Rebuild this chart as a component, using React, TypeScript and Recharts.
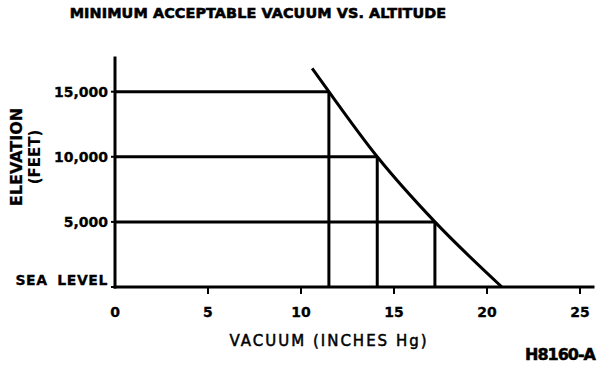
import { LineChart, Line, XAxis, YAxis } from 'recharts'

// curve: minimum vacuum (in Hg) vs elevation (ft)
const curveVacuum = [10.6, 11.5, 14.1, 17.2, 20.8]
const curveElevation = [16800, 15000, 10000, 5000, 0]

// marked levels and the vacuum read at each
const levels = [15000, 10000, 5000]
const levelVacuum = [11.5, 14.1, 17.2]

const xTicks = [0, 5, 10, 15, 20, 25]
const yTicks = [0, 5000, 10000, 15000]
const yTickLabels = ['SEA LEVEL', '5,000', '10,000', '15,000']

const X_MAX = 25.7
const Y_MAX = 17588

const FONT = '"DejaVu Sans", sans-serif'

const curveData = curveVacuum.map((x, i) => ({ x, y: curveElevation[i] }))
const hLines = levels.map((y, i) => [
  { x: 0, y },
  { x: levelVacuum[i], y },
])
const vLines = levels.map((y, i) => [
  { x: levelVacuum[i], y },
  { x: levelVacuum[i], y: 0 },
])

function XTick({ x, y, payload }: any) {
  return (
    <g>
      {payload.value !== 0 && (
        <line x1={x} x2={x} y1={y - 8} y2={y - 1} stroke="#000" strokeWidth={2} />
      )}
      <text x={x} y={y} dy={22} textAnchor="middle" fontFamily={FONT} fontWeight="bold" fontSize={14} stroke="#000" strokeWidth={0.3} fill="#000">
        {payload.value}
      </text>
    </g>
  )
}

function YTick({ x, y, payload }: any) {
  const idx = yTicks.indexOf(payload.value)
  const isSea = payload.value === 0
  return (
    <text
      x={x}
      y={y}
      dy={isSea ? -2 : 5}
      textAnchor="end"
      fontFamily={FONT}
      fontWeight="bold"
      fontSize={14}
      letterSpacing={isSea ? 0.6 : 0}
      wordSpacing={isSea ? 4 : 0}
      stroke="#000"
      strokeWidth={0.3}
      fill="#000"
    >
      {yTickLabels[idx]}
    </text>
  )
}

export default function App() {
  return (
    <div style={{ position: 'absolute', left: 0, top: 0, background: '#fff' }}>
      <LineChart width={608} height={366} margin={{ top: 58, right: 15, bottom: 49, left: 0 }}>
        <XAxis
          type="number"
          dataKey="x"
          domain={[0, X_MAX]}
          ticks={xTicks}
          tickLine={false}
          tickSize={5}
          tickMargin={3}
          height={30}
          axisLine={{ stroke: '#000', strokeWidth: 3, strokeLinecap: 'square' }}
          tick={<XTick />}
        />
        <YAxis
          type="number"
          dataKey="y"
          domain={[0, Y_MAX]}
          ticks={yTicks}
          width={115}
          tickSize={4}
          tickMargin={3}
          tickLine={{ stroke: '#000', strokeWidth: 2 }}
          axisLine={{ stroke: '#000', strokeWidth: 3, strokeLinecap: 'square' }}
          tick={<YTick />}
        />
        {hLines.map((d, i) => (
          <Line key={'h' + i} data={d} dataKey="y" type="linear" stroke="#000" strokeWidth={3} dot={false} isAnimationActive={false} />
        ))}
        {vLines.map((d, i) => (
          <Line key={'v' + i} data={d} dataKey="y" type="linear" stroke="#000" strokeWidth={3} dot={false} isAnimationActive={false} />
        ))}
        <Line data={curveData} dataKey="y" type="monotone" stroke="#000" strokeWidth={3} dot={false} isAnimationActive={false} />

        <text x={258} y={18} textAnchor="middle" fontFamily={FONT} fontWeight="bold" fontSize={14.4} letterSpacing={0.1} stroke="#000" strokeWidth={0.6} fill="#000">
          MINIMUM ACCEPTABLE VACUUM VS. ALTITUDE
        </text>
        <text x={329} y={346} textAnchor="middle" fontFamily={FONT} fontSize={15} letterSpacing={2} stroke="#000" strokeWidth={0.5} fill="#000">
          VACUUM (INCHES Hg)
        </text>
        <text x={21.5} y={157} textAnchor="middle" transform="rotate(-90 21.5 157)" fontFamily={FONT} fontWeight="bold" fontSize={16} stroke="#000" strokeWidth={0.3} fill="#000">
          ELEVATION
        </text>
        <text x={39.5} y={157} textAnchor="middle" transform="rotate(-90 39.5 157)" fontFamily={FONT} fontWeight="bold" fontSize={15} fill="#000">
          (FEET)
        </text>
        <text x={595} y={360} textAnchor="end" fontFamily={FONT} fontWeight="bold" fontSize={16} letterSpacing={-1} stroke="#000" strokeWidth={0.5} fill="#000">
          H8160-A
        </text>
      </LineChart>
    </div>
  )
}
